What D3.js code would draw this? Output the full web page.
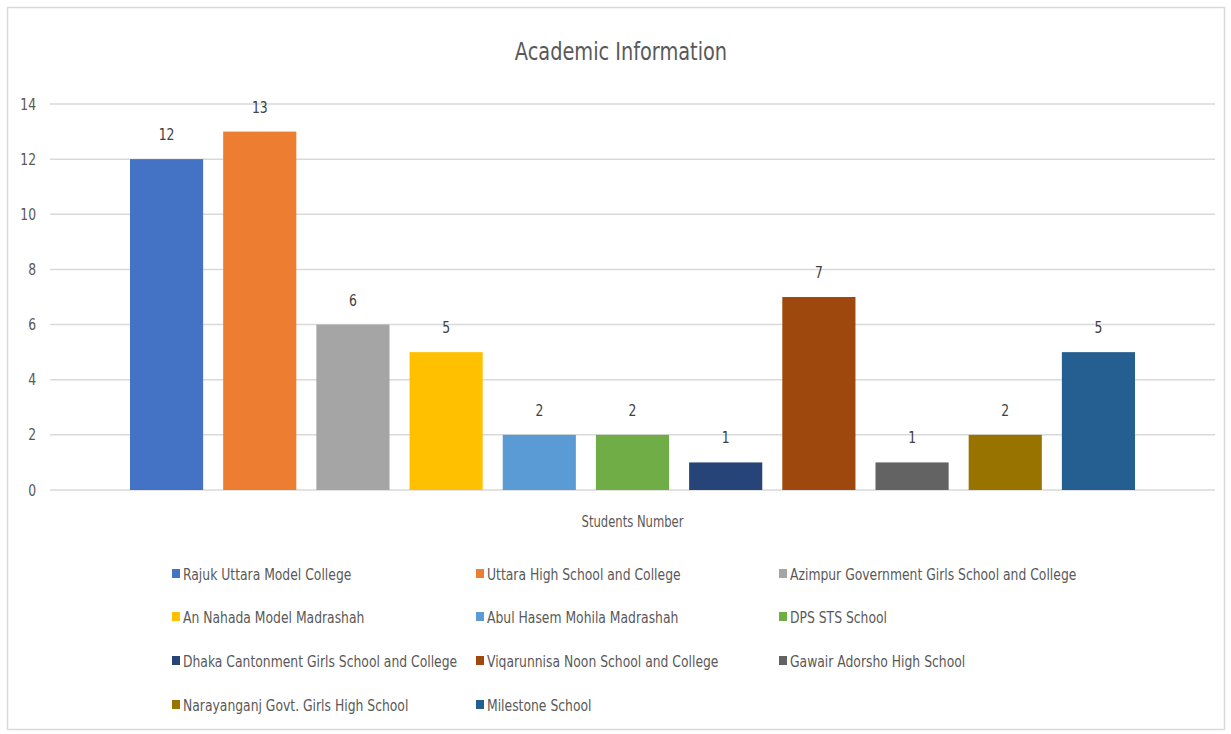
<!DOCTYPE html>
<html>
<head>
<meta charset="utf-8">
<script src="https://cdn.jsdelivr.net/npm/d3@7"></script>
<style>
  html, body { margin: 0; padding: 0; background: #fff; }
  svg text { font-family: "DejaVu Sans Condensed", "DejaVu Sans", sans-serif; }
</style>
</head>
<body>
<svg id="chart" width="1231" height="734"></svg>
<script>
const title = "Academic Information";
const category = "Students Number";
const schools = [
  "Rajuk Uttara Model College",
  "Uttara High School and College",
  "Azimpur Government Girls School and College",
  "An Nahada Model Madrashah",
  "Abul Hasem Mohila Madrashah",
  "DPS STS School",
  "Dhaka Cantonment Girls School and College",
  "Viqarunnisa Noon School and College",
  "Gawair Adorsho High School",
  "Narayanganj Govt. Girls High School",
  "Milestone School"
];
const students = [12, 13, 6, 5, 2, 2, 1, 7, 1, 2, 5];
const colors = ["#4472C4", "#ED7D31", "#A5A5A5", "#FFC000", "#5B9BD5", "#70AD47",
                "#264478", "#9E480E", "#636363", "#997300", "#255E91"];
const yTicks = [0, 2, 4, 6, 8, 10, 12, 14];

const SX = 0.86; // horizontal condensing of the text
const svg = d3.select("#chart");

function label(g, x, y, txt, size, fill, anchor) {
  return g.append("text")
    .attr("transform", `translate(${x},${y}) scale(${SX},1)`)
    .attr("text-anchor", anchor || "start")
    .attr("font-size", size).attr("fill", fill).text(txt);
}

// chart border
svg.append("rect").attr("x", 7.5).attr("y", 7.5).attr("width", 1217).attr("height", 722)
  .attr("fill", "#fff").attr("stroke", "#d9d9d9").attr("stroke-width", 1.5);

const plot = {left: 50, right: 1215, top: 104, bottom: 490};

const y = d3.scaleLinear().domain([0, 14]).range([plot.bottom, plot.top]);
const x0 = d3.scaleBand().domain([category]).range([plot.left, plot.right]).paddingOuter(0.0683);
const x1 = d3.scaleBand().domain(schools).range([x0(category), x0(category) + x0.bandwidth()])
  .paddingInner(0.215).paddingOuter(0.107);
const color = d3.scaleOrdinal().domain(schools).range(colors);

// gridlines
svg.append("g").selectAll("line").data(yTicks).join("line")
  .attr("x1", plot.left).attr("x2", plot.right)
  .attr("y1", d => y(d)).attr("y2", d => y(d))
  .attr("stroke", "#d9d9d9").attr("stroke-width", 1.5);

// y axis labels
const yAxis = d3.axisLeft(y).tickValues(yTicks).tickSize(0).tickPadding(0);
const yg = svg.append("g").attr("transform", `translate(36,0)`).call(yAxis);
yg.select(".domain").remove();
yg.selectAll("text").attr("font-size", 16).attr("fill", "#595959")
  .attr("transform", `scale(${SX},1)`)
  .style("font-family", "'DejaVu Sans Condensed', 'DejaVu Sans', sans-serif");

// title
label(svg, 621, 60, title, 25, "#595959", "middle");

// bars
const data = schools.map((s, i) => ({school: s, value: students[i]}));
svg.append("g").selectAll("rect").data(data).join("rect")
  .attr("x", d => x1(d.school)).attr("width", x1.bandwidth())
  .attr("y", d => y(d.value)).attr("height", d => y(0) - y(d.value))
  .attr("fill", d => color(d.school));

// data labels
const dl = svg.append("g");
data.forEach(d => label(dl, x1(d.school) + x1.bandwidth() / 2, y(d.value) - 19, d.value, 16, "#404040", "middle"));

// category label
const xAxis = d3.axisBottom(x0).tickSize(0).tickPadding(0);
const xg = svg.append("g").attr("transform", `translate(0,${plot.bottom + 37})`).call(xAxis);
xg.select(".domain").remove();
xg.selectAll("text").attr("font-size", 15).attr("fill", "#595959").attr("dy", 0)
  .attr("transform", `scale(${SX},1)`)
  .style("font-family", "'DejaVu Sans Condensed', 'DejaVu Sans', sans-serif");
xg.selectAll(".tick").attr("transform", d => `translate(${x0(d) + x0.bandwidth() / 2},0)`);

// legend
const colX = [172, 476, 779];
const rowY = [574, 617, 661, 705];
const lg = svg.append("g").selectAll("g").data(data).join("g")
  .attr("transform", (d, i) => `translate(${colX[i % 3]},${rowY[Math.floor(i / 3)]})`);
lg.append("rect").attr("x", 0).attr("y", -5).attr("width", 8).attr("height", 9)
  .attr("fill", d => color(d.school));
lg.each(function(d) { label(d3.select(this), 11, 6, d.school, 16, "#595959", "start"); });
</script>
</body>
</html>
